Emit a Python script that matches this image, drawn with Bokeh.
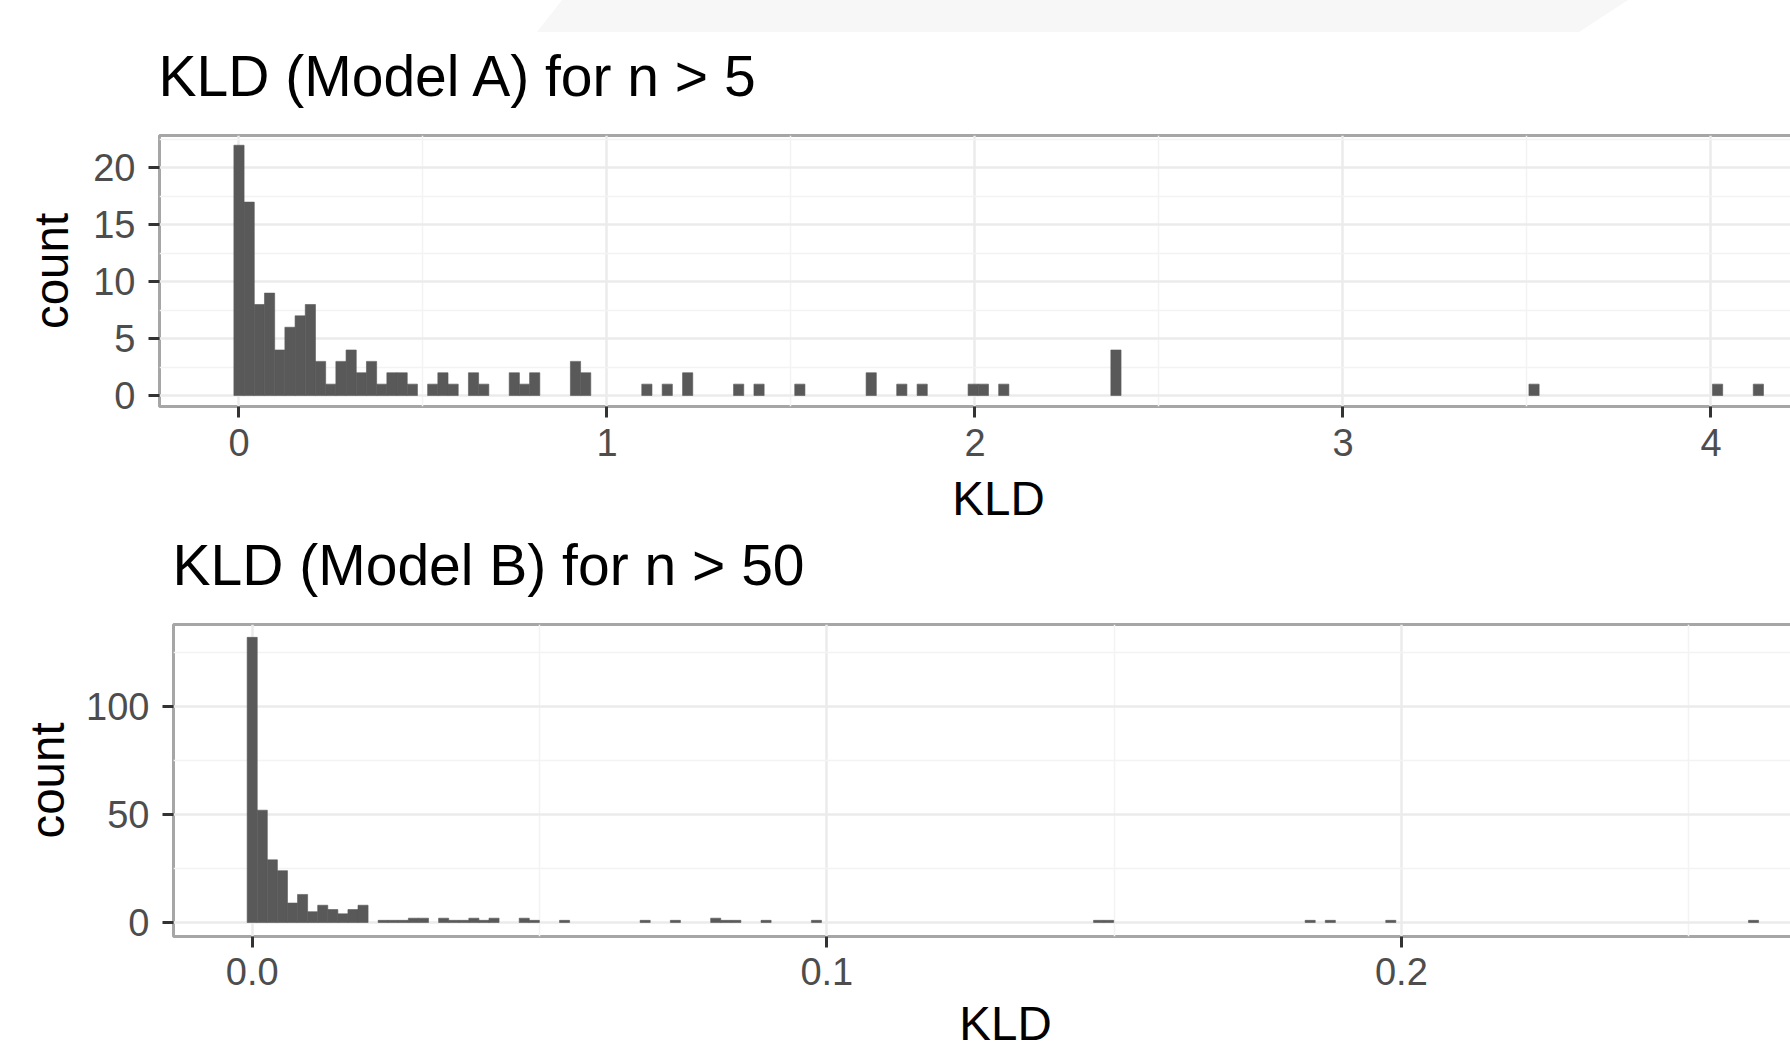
from bokeh.plotting import figure
from bokeh.models import FixedTicker, Div, Range1d, Title
from bokeh.embed import file_html
from bokeh.resources import INLINE

FONT = "Liberation Sans"

# ---------------- data ----------------
title_a = "KLD (Model A) for n > 5"
title_b = "KLD (Model B) for n > 50"
x_label = "KLD"
y_label = "count"

bin_width_a = 0.02771
bins_a = [0, 1, 2, 3, 4, 5, 6, 7, 8, 9, 10, 11, 12, 13, 14, 15, 16, 17,
          19, 20, 21, 23, 24, 27, 28, 29, 33, 34, 40, 42, 44, 49, 51, 55,
          62, 65, 67, 72, 73, 75, 86, 127, 145, 149]
counts_a = [22, 17, 8, 9, 4, 6, 7, 8, 3, 1, 3, 4, 2, 3, 1, 2, 2, 1,
            1, 2, 1, 2, 1, 2, 1, 2, 3, 2, 1, 1, 2, 1, 1, 1,
            2, 1, 1, 1, 1, 1, 4, 1, 1, 1]

bin_width_b = 0.0017536
bins_b = [0, 1, 2, 3, 4, 5, 6, 7, 8, 9, 10, 11, 13, 14, 15, 16, 17,
          19, 20, 21, 22, 23, 24, 27, 28, 31, 39, 42, 46, 47, 48, 51, 56,
          84, 85, 105, 107, 113, 149]
counts_b = [132, 52, 29, 24, 9, 13, 5, 8, 6, 4, 6, 8, 1, 1, 1, 2, 2,
            2, 1, 1, 2, 1, 2, 2, 1, 1, 1, 1, 2, 1, 1, 1, 1,
            1, 1, 1, 1, 1, 1]

x_ticks_a = [0, 1, 2, 3, 4]
x_minor_a = [0.5, 1.5, 2.5, 3.5]
y_ticks_a = [0, 5, 10, 15, 20]
y_minor_a = [2.5, 7.5, 12.5, 17.5, 22.5]

x_ticks_b = [0.0, 0.1, 0.2]
x_tick_labels_b = ["0.0", "0.1", "0.2"]
x_minor_b = [0.05, 0.15, 0.25]
y_ticks_b = [0, 50, 100]
y_minor_b = [25, 75, 125]

BAR = "#595959"
BORDER = "#a6a6a6"
GRID = "#ebebeb"
GRID_MINOR = "#f3f3f3"


def make_fig(w, h, left, top, bottom, xr, yr, xt, xm, yt, ym,
             xtick_standoff, xlab_standoff, ylab_standoff):
    p = figure(width=w, height=h, x_range=Range1d(xr[0], xr[1]),
               y_range=Range1d(yr[0], yr[1]), output_backend="svg",
               toolbar_location=None, title=None,
               min_border_left=left, min_border_right=0,
               min_border_top=top, min_border_bottom=bottom)
    p.outline_line_color = BORDER
    p.outline_line_width = 3
    p.background_fill_color = "white"
    p.border_fill_color = "white"
    p.xaxis.ticker = FixedTicker(ticks=xt, minor_ticks=xm)
    p.yaxis.ticker = FixedTicker(ticks=yt, minor_ticks=ym)
    for g in (p.xgrid, p.ygrid):
        g.grid_line_color = GRID
        g.grid_line_width = 2.5
        g.minor_grid_line_color = GRID_MINOR
        g.minor_grid_line_width = 1.5
    for ax in (p.xaxis, p.yaxis):
        ax.axis_line_color = None
        ax.major_tick_line_color = "#333333"
        ax.major_tick_line_width = 3
        ax.major_tick_out = 11
        ax.major_tick_in = 0
        ax.minor_tick_line_color = None
        ax.major_label_text_font = FONT
        ax.major_label_text_font_size = "38px"
        ax.major_label_text_color = "#4d4d4d"
        ax.axis_label_text_font = FONT
        ax.axis_label_text_font_size = "47.5px"
        ax.axis_label_text_font_style = "normal"
        ax.axis_label_text_color = "black"
    p.xaxis.axis_label = x_label
    p.yaxis.axis_label = y_label
    p.xaxis.major_label_standoff = xtick_standoff
    p.yaxis.major_label_standoff = 13
    p.xaxis.axis_label_standoff = xlab_standoff
    p.yaxis.axis_label_standoff = ylab_standoff
    return p


def make_title(text, standoff, offset, valign):
    return Title(text=text, align="left", vertical_align=valign, text_font=FONT,
                 text_font_size="57px", text_font_style="normal",
                 text_color="black", standoff=standoff, offset=offset)


# ---------------- top panel (also carries the second panel's title below it) ----------------
p1 = make_fig(1837, 606, 159, 135, 200, (-0.2160, 4.3438), (-0.967, 22.857),
              x_ticks_a, x_minor_a, y_ticks_a, y_minor_a, 11, 13, 12)
p1.add_layout(make_title(title_a, 56, -1, "bottom"), "above")
p1.add_layout(make_title(title_b, 10, 13, "top"), "below")
centers_a = [b * bin_width_a for b in bins_a]
p1.vbar(x=centers_a, top=counts_a, bottom=0, width=bin_width_a,
        fill_color=BAR, line_color=BAR, line_width=0.6)

# ---------------- bottom panel ----------------
p2 = make_fig(1837, 470, 173, 18, 140, (-0.013697, 0.27590), (-6.48, 137.96),
              x_ticks_b, x_minor_b, y_ticks_b, y_minor_b, 10, 9, 9)
p2.xaxis.major_label_overrides = dict(zip(x_ticks_b, x_tick_labels_b))
centers_b = [b * bin_width_b for b in bins_b]
p2.vbar(x=centers_b, top=counts_b, bottom=0, width=bin_width_b,
        fill_color=BAR, line_color=BAR, line_width=0.6)

banner = Div(text='<svg width="1790" height="32" xmlns="http://www.w3.org/2000/svg" style="display:block">'
                  '<polygon points="562,0 1628,0 1579,32 537,32" fill="#f7f7f7"/></svg>',
             width=1790, height=32, margin=0,
             styles={"position": "absolute", "top": "0px", "left": "0px"})

open("out.html", "w").write(file_html([p1, p2, banner], INLINE))
